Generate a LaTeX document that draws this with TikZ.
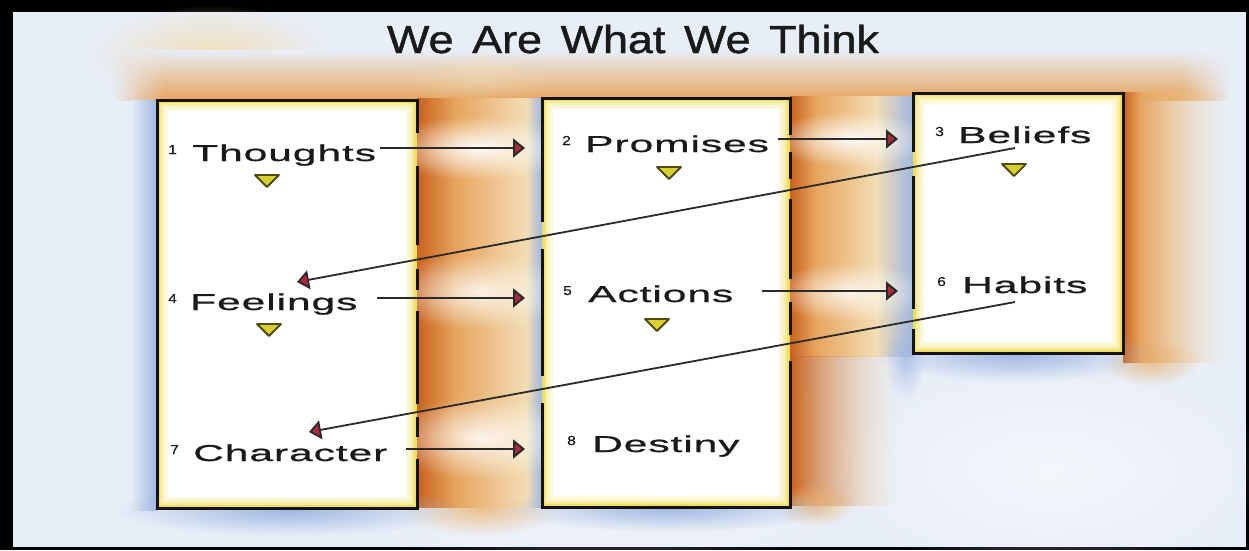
\documentclass[tikz,border=0pt]{standalone}
\usepackage{fontspec}
\setmainfont{Liberation Sans}
\newfontfamily\lblfont[FakeStretch=1.85,LetterSpace=4,FakeBold=0.8]{Liberation Sans}
\newfontfamily\numfont[FakeStretch=1.2,FakeBold=0.6]{Liberation Sans}
\newfontfamily\ttlfont[FakeStretch=1.15,WordSpace=1.5,FakeBold=1.2]{Liberation Sans}
\usetikzlibrary{arrows.meta,calc,fadings}
\tikzfading[name=softblob, inner color=transparent!0, outer color=transparent!100]
\definecolor{bgc}{HTML}{E8EEF8}
\definecolor{orng}{HTML}{E6A45E}
\definecolor{orngd}{HTML}{C8621F}
\definecolor{orngl}{HTML}{F3DDB4}
\definecolor{blsh}{HTML}{9FB8E2}
\definecolor{ylw}{HTML}{F0E060}
\definecolor{arred}{HTML}{B0283E}
\definecolor{trif}{HTML}{D9CF2E}
\definecolor{trio}{HTML}{4E4A12}
\definecolor{edgec}{HTML}{161210}
\definecolor{lnc}{HTML}{2A2A2A}
\definecolor{txt}{HTML}{1A1A1A}
\begin{document}
\begin{tikzpicture}[x=1pt,y=-1pt,
  lbl/.style={anchor=base west, inner sep=0pt, text=txt, font=\lblfont\fontsize{23}{23}\selectfont},
  num/.style={anchor=base west, inner sep=0pt, text=txt, font=\numfont\fontsize{13}{13}\selectfont},
  conn/.style={draw=lnc, line width=2pt, -{Triangle[length=12pt,width=19pt,fill=arred]}},
  edgeline/.style={draw=edgec, line width=3pt, line cap=rect},
  tri/.style={fill=trif, draw=trio, line width=1.8pt, line join=round},
  blob/.style={path fading=softblob}]
\useasboundingbox (0,0) rectangle (1249,550);
% frame and background
\fill[black] (0,0) rectangle (1249,550);
\fill[bgc] (13,12) rectangle (1246,547);
\fill[white, opacity=0.5, blob] (600,460) ellipse [x radius=300, y radius=120];
\fill[white, opacity=0.5, blob] (1050,470) ellipse [x radius=220, y radius=110];
% light wash top left
\fill[orngl, opacity=0.9, blob] (210,55) ellipse [x radius=120, y radius=50];
% top orange band
\shade[top color=bgc, bottom color=orng] (165,50) rectangle (1180,100);
\shade[top color=bgc, bottom color=orng, path fading=west] (112,50) rectangle (165,100);
\shade[top color=bgc, bottom color=orng, path fading=east] (1180,50) rectangle (1230,100);
\fill[orngl, opacity=0.5, blob] (480,78) ellipse [x radius=80, y radius=25];
% column A
\fill[orng!60!orngl, opacity=0.9, blob] (480,508) ellipse [x radius=80, y radius=28];
\shade[left color=orngd, right color=orng] (417,98) rectangle (455,507);
\shade[left color=orng, right color=orngl] (455,98) rectangle (526,507);
\shade[left color=orngl, right color=blsh] (526,98) rectangle (542,507);
\fill[white, opacity=0.95, blob] (478,148) ellipse [x radius=95, y radius=32];
\fill[white, opacity=0.8, blob] (478,292) ellipse [x radius=95, y radius=38];
\fill[white, opacity=0.85, blob] (482,438) ellipse [x radius=95, y radius=42];
% column B
\shade[left color=orngd, right color=orng] (790,96) rectangle (815,356);
\shade[left color=orng, right color=orngl] (815,96) rectangle (876,356);
\shade[left color=orngl, right color=blsh] (876,96) rectangle (913,356);
\shade[left color=orngd, right color=orngl, path fading=east] (790,356) rectangle (900,505);
\fill[orng!70!orngl, opacity=0.8, blob] (815,505) ellipse [x radius=40, y radius=22];
\fill[white, opacity=0.9, blob] (850,139) ellipse [x radius=80, y radius=28];
\fill[white, opacity=0.8, blob] (850,292) ellipse [x radius=80, y radius=30];
% column C
\fill[orng!70!orngl, opacity=0.8, blob] (1150,362) ellipse [x radius=50, y radius=24];
\shade[left color=orngd, right color=orng] (1123,92) rectangle (1140,362);
\shade[left color=orng, right color=orngl, path fading=east] (1140,92) rectangle (1228,362);
% blue shadows
\shade[left color=bgc, right color=blsh] (130,100) rectangle (157,510);
\fill[blsh, blob] (288,510) ellipse [x radius=175, y radius=26];
\fill[blsh, blob] (668,508) ellipse [x radius=165, y radius=24];
\fill[blsh, blob] (1015,354) ellipse [x radius=140, y radius=28];
\fill[blsh, opacity=0.7, blob] (905,360) ellipse [x radius=20, y radius=40];
% box fills
\foreach \xa/\ya/\xb/\yb in {157/100/417/508, 542/98/790/507, 913/93/1123/353}{
  \fill[ylw] (\xa,\ya) rectangle (\xb,\yb);
  \foreach \i in {3,5,7,9}
    \fill[white, opacity=0.35] (\xa+\i,\ya+\i) rectangle (\xb-\i,\yb-\i);
  \fill[white] (\xa+11,\ya+11) rectangle (\xb-11,\yb-11);
}
% box edges with gaps
\draw[edgeline] (157,508) -- (157,100) -- (417,100) -- (417,131);
\draw[edgeline] (157,508) -- (417,508) -- (417,460);
\foreach \a/\b in {167/243,270/288,312/402,418/435}
  \draw[edgeline] (417,\a) -- (417,\b);
\draw[edgeline] (542,220) -- (542,98) -- (790,98) -- (790,133);
\draw[edgeline] (542,404) -- (542,507) -- (790,507) -- (790,362);
\draw[edgeline] (542,250) -- (542,374);
\foreach \a/\b in {153/177,200/277,303/333}
  \draw[edgeline] (790,\a) -- (790,\b);
\draw[edgeline] (913,150) -- (913,93) -- (1123,93) -- (1123,353) -- (913,353) -- (913,330);
\draw[edgeline] (913,177) -- (913,307);
% title
\node[anchor=base, inner sep=0pt, text=txt, font=\ttlfont\fontsize{39}{39}\selectfont] (title) at (633,53) {We Are What We Think};
% labels
\node[num] (d1) at (168,154) {1};
\node[lbl] (t1) at (192,161) {Thoughts};
\node[num] (d2) at (562,145) {2};
\node[lbl] (t2) at (585,152) {Promises};
\node[num] (d3) at (935,136) {3};
\node[lbl] (t3) at (958,143) {Beliefs};
\node[num] (d4) at (168,303) {4};
\node[lbl] (t4) at (190,310) {Feelings};
\node[num] (d5) at (563,295) {5};
\node[lbl] (t5) at (588,302) {Actions};
\node[num] (d6) at (937,286) {6};
\node[lbl] (t6) at (962,293) {Habits};
\node[num] (d7) at (170,454) {7};
\node[lbl] (t7) at (193,461) {Character};
\node[num] (d8) at (567,445) {8};
\node[lbl] (t8) at (592,452) {Destiny};
% small triangles
\foreach \cx/\cy in {267/181, 669/173, 1014/170, 269/330, 657/325}
  \draw[tri] (\cx-12,\cy-6) -- (\cx+12,\cy-6) -- (\cx,\cy+6) -- cycle;
% arrow end points
\coordinate (p12) at (525,148);
\coordinate (p23) at (898,139);
\coordinate (p45) at (525,298);
\coordinate (p56) at (898,291);
\coordinate (p78) at (525,449);
\coordinate (s34) at (1015,148);
\coordinate (p34) at (297,282);
\coordinate (s67) at (1015,302);
\coordinate (p67) at (309,432);
% connectors
\draw[conn] ($(t1.east |- p12)+(4,0)$) -- (p12);
\draw[conn] ($(t2.east |- p23)+(9,0)$) -- (p23);
\draw[conn] ($(t4.east |- p45)+(19,0)$) -- (p45);
\draw[conn] ($(t5.east |- p56)+(29,0)$) -- (p56);
\draw[conn] ($(t7.east |- p78)+(18,0)$) -- (p78);
\draw[conn, line width=1.8pt] (s34) -- (p34);
\draw[conn, line width=1.8pt] (s67) -- (p67);
\end{tikzpicture}
\end{document}
